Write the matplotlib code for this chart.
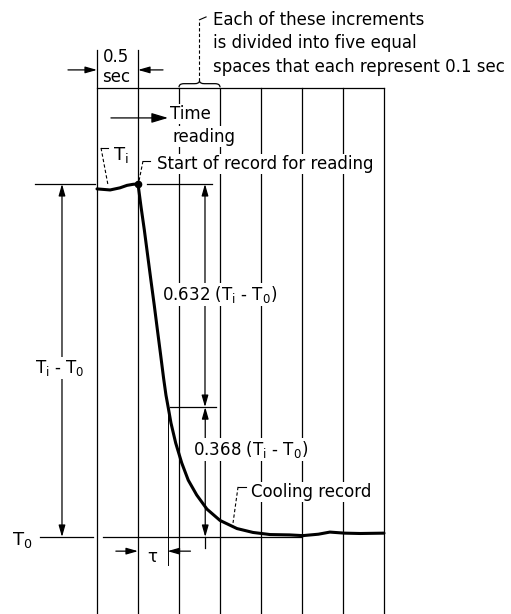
import matplotlib
matplotlib.use('Agg')
import matplotlib.pyplot as plt
from matplotlib.path import Path
from matplotlib.patches import PathPatch

plt.rcParams['font.family'] = ['DejaVu Sans']
plt.rcParams['mathtext.default'] = 'regular'

# chart time grid (sec), record starts at t = 0
grid_t = [-0.5, 0.0, 0.5, 1.0, 1.5, 2.0, 2.5, 3.0]

# cooling record, temperature normalised: T_i = 1, T_0 = 0
curve_t = [-0.50, -0.34, -0.22, -0.134, -0.06, 0.0, 0.037, 0.077, 0.117, 0.157,
           0.198, 0.237, 0.276, 0.312, 0.341, 0.370, 0.402, 0.460, 0.533, 0.613,
           0.716, 0.841, 1.0, 1.207, 1.402, 1.61, 1.85, 2.01, 2.20, 2.34,
           2.52, 2.71, 3.0]
curve_T = [0.986, 0.983, 0.989, 0.996, 0.999, 1.0, 0.935, 0.870, 0.799, 0.728,
           0.657, 0.586, 0.516, 0.450, 0.402, 0.365, 0.323, 0.266, 0.210, 0.161,
           0.119, 0.079, 0.047, 0.024, 0.013, 0.007, 0.006, 0.004, 0.008, 0.014,
           0.011, 0.010, 0.011]

tau = 0.36          # time constant, sec
frac = 0.368        # remaining fraction after one tau
T_i, T_0 = 1.0, 0.0

fig = plt.figure(figsize=(5.11, 6.14), dpi=100)
ax = fig.add_axes([0, 0, 1, 1])
ax.set_xlim(-1.683, 4.549)
ax.set_ylim(-0.218, 1.521)
ax.axis('off')

lw = 0.9
top = 1.272
bot = -0.218
ext = 1.38
wb = dict(fc='white', ec='none', pad=1.0)
fs = 12
dash = (0, (3, 2))

# chart paper
for t in grid_t:
    ytop = ext if t <= 0 else top
    ax.plot([t, t], [bot, ytop], color='k', lw=lw, zorder=1)
ax.plot([grid_t[0], grid_t[-1]], [top, top], color='k', lw=lw, zorder=1)

# reference levels
ax.plot([-1.256, -0.52], [T_i, T_i], color='k', lw=lw)
ax.plot([0.11, 0.90], [T_i, T_i], color='k', lw=lw)
ax.plot([-1.195, -0.55], [T_0, T_0], color='k', lw=lw)
ax.plot([-0.43, 2.0], [T_0, T_0], color='k', lw=lw)
ax.plot([0.39, 0.95], [frac, frac], color='k', lw=lw)

# the record
ax.plot(curve_t, curve_T, color='k', lw=2.2, solid_capstyle='round',
        solid_joinstyle='round', zorder=5)
ax.plot(0, T_i, 'o', color='k', ms=4.5, zorder=6)


def arrow(x0, y0, x1, y1, style='-|>', hl=0.7, hw=0.2):
    ax.annotate('', xy=(x1, y1), xytext=(x0, y0),
                arrowprops=dict(arrowstyle=f'{style},head_length={hl},head_width={hw}',
                                color='k', lw=lw, shrinkA=0, shrinkB=0,
                                mutation_scale=10), zorder=2)


# dimensions
arrow(-0.927, T_0, -0.927, T_i, '<|-|>')
arrow(0.817, frac, 0.817, T_i, '<|-|>')
arrow(0.82, T_0, 0.82, frac, '<|-|>')
ax.plot([0.82, 0.82], [T_0, -0.031], color='k', lw=lw)

# tau
ax.plot([tau, tau], [frac, -0.079], color='k', lw=0.7)
arrow(-0.27, -0.04, 0.0, -0.04)
arrow(0.64, -0.04, tau, -0.04)
ax.text(0.175, -0.071, 'τ', fontsize=fs, ha='center', va='baseline')

# 0.5 sec span
arrow(-0.854, 1.323, grid_t[0], 1.323)
arrow(0.305, 1.323, grid_t[1], 1.323)
ax.text(-0.27, 1.346, '0.5', fontsize=fs, ha='center', va='baseline')
ax.text(-0.27, 1.289, 'sec', fontsize=fs, ha='center', va='baseline')

# brace over one increment
b0, b1 = grid_t[2], grid_t[3]
bm = (b0 + b1) / 2
yb0, yb1, yb2 = 1.274, 1.284, 1.292
left = Path([(b0, yb0), (b0, yb1), (b0 + 0.06, yb1), (bm - 0.06, yb1), (bm, yb1), (bm, yb2)],
            [Path.MOVETO, Path.CURVE3, Path.CURVE3, Path.LINETO, Path.CURVE3, Path.CURVE3])
right = Path([(b1, yb0), (b1, yb1), (b1 - 0.06, yb1), (bm + 0.06, yb1), (bm, yb1), (bm, yb2)],
             [Path.MOVETO, Path.CURVE3, Path.CURVE3, Path.LINETO, Path.CURVE3, Path.CURVE3])
for p in (left, right):
    ax.add_patch(PathPatch(p, fc='none', ec='k', lw=lw))
ax.plot([bm, bm], [yb2, 1.465], color='k', lw=0.8, ls=dash)
ax.plot([bm, 0.83], [1.465, 1.473], color='k', lw=0.8)
ax.text(0.915, 1.450, 'Each of these increments', fontsize=fs, va='baseline')
ax.text(0.915, 1.385, 'is divided into five equal', fontsize=fs, va='baseline')
ax.text(0.915, 1.317, 'spaces that each represent 0.1 sec', fontsize=fs, va='baseline')

# time reading
arrow(-0.33, 1.187, 0.366, 1.187, hl=1.0, hw=0.3)
ax.text(0.39, 1.184, 'Time', fontsize=fs, va='baseline', bbox=wb)
ax.text(0.415, 1.120, 'reading', fontsize=fs, va='baseline', bbox=wb)

# leaders and labels
ax.plot([-0.451, -0.366], [1.102, 0.997], color='k', lw=0.8, ls=dash)
ax.plot([-0.451, -0.37], [1.102, 1.102], color='k', lw=0.8)
ax.text(-0.305, 1.068, 'T$_i$', fontsize=13, va='baseline')

ax.plot([0.061, 0.012], [1.065, 1.008], color='k', lw=0.8, ls=dash)
ax.plot([0.061, 0.146], [1.065, 1.065], color='k', lw=0.8)
ax.text(0.232, 1.042, 'Start of record for reading', fontsize=fs, va='baseline', bbox=wb)

ax.plot([1.22, 1.159], [0.142, 0.04], color='k', lw=0.8, ls=dash)
ax.plot([1.22, 1.317], [0.142, 0.142], color='k', lw=0.8)
ax.text(1.378, 0.113, 'Cooling record', fontsize=fs, va='baseline', bbox=wb)

ax.text(1.0, 0.671, '0.632 (T$_i$ - T$_0$)', fontsize=fs, ha='center', va='baseline', bbox=wb)
ax.text(1.378, 0.232, '0.368 (T$_i$ - T$_0$)', fontsize=fs, ha='center', va='baseline', bbox=wb)
ax.text(-0.951, 0.465, 'T$_i$ - T$_0$', fontsize=fs, ha='center', va='baseline', bbox=wb)
ax.text(-1.415, -0.023, 'T$_0$', fontsize=13, ha='center', va='baseline')

fig.savefig('out.png', dpi=100)
